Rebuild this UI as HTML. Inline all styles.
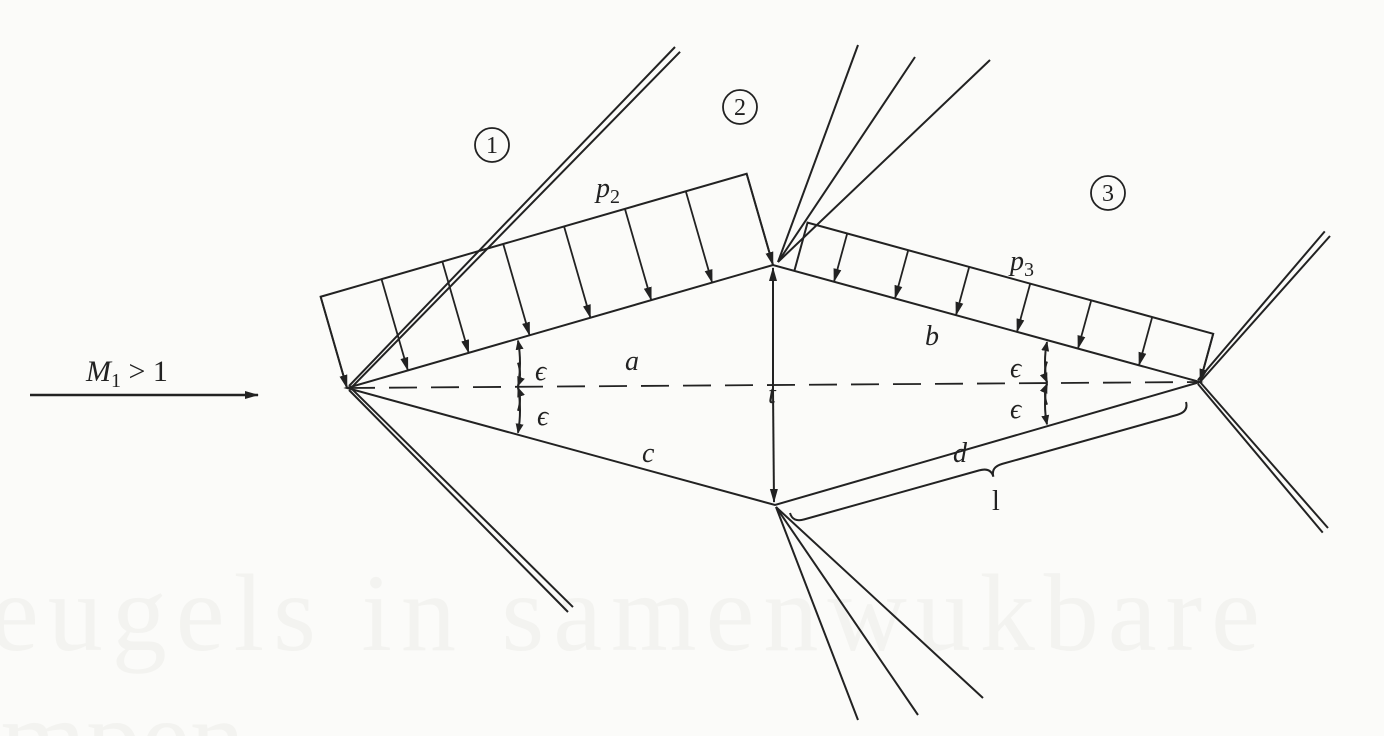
<!DOCTYPE html>
<html><head><meta charset="utf-8"><style>
html,body{margin:0;padding:0;background:#fbfbf9;overflow:hidden;width:1384px;height:736px;}
svg{display:block;font-family:"Liberation Serif",serif;}
</style></head><body>
<svg id="fig" width="1384" height="736" viewBox="0 0 1384 736" xmlns="http://www.w3.org/2000/svg">
<defs>
<marker id="ah" markerWidth="10" markerHeight="10" refX="9" refY="5" orient="auto" markerUnits="userSpaceOnUse" viewBox="0 0 10 10">
<path d="M0,1 L10,5 L0,9 Z" fill="#222"/></marker>
<marker id="ahs" markerWidth="14" markerHeight="14" refX="13" refY="7" orient="auto" markerUnits="userSpaceOnUse" viewBox="0 0 14 14">
<path d="M0,3 L14,7 L0,11 Z" fill="#222"/></marker>
</defs>
<g fill="#f3f3f0" font-size="110" font-family="Liberation Serif, serif">
<text x="-10" y="650" textLength="1270">eugels in samenwukbare</text>
<text x="-30" y="775">impen</text>
</g>
<g id="main" stroke="#222" stroke-width="2" fill="none"></g>
<g fill="#222" font-style="italic" font-size="28">
<text x="596" y="197">p<tspan font-size="20" dy="6" font-style="normal">2</tspan></text>
<text x="1010" y="270">p<tspan font-size="20" dy="6" font-style="normal">3</tspan></text>
<text x="625" y="370">a</text>
<text x="925" y="345">b</text>
<text x="642" y="462">c</text>
<text x="953" y="462">d</text>
<text x="768" y="403">t</text>
<text x="535" y="380">ϵ</text>
<text x="537" y="425">ϵ</text>
<text x="1010" y="377">ϵ</text>
<text x="1010" y="418">ϵ</text>
<text x="992" y="510" font-style="normal">l</text>
<text x="86" y="381" font-size="30">M<tspan font-size="20" dy="6" font-style="normal">1</tspan><tspan dy="-6" font-style="normal"> &gt; 1</tspan></text>
</g>
<g fill="none" stroke="#222" stroke-width="1.8">
<circle cx="492" cy="145" r="17"/>
<circle cx="740" cy="107" r="17"/>
<circle cx="1108" cy="193" r="17"/>
</g>
<g fill="#222" font-size="24" text-anchor="middle">
<text x="492" y="153">1</text><text x="740" y="115">2</text><text x="1108" y="201">3</text>
</g>
</svg>
<script>
const NS='http://www.w3.org/2000/svg';
const g=document.getElementById('main');
function ln(x1,y1,x2,y2,name,extra){
  const e=document.createElementNS(NS,'line');
  e.setAttribute('x1',x1);e.setAttribute('y1',y1);e.setAttribute('x2',x2);e.setAttribute('y2',y2);
  
  
  if(extra)for(const k in extra)e.setAttribute(k,extra[k]);
  g.appendChild(e);return e;
}
function pth(d,name,extra){
  const e=document.createElementNS(NS,'path');e.setAttribute('d',d);
  
  
  if(extra)for(const k in extra)e.setAttribute(k,extra[k]);
  g.appendChild(e);return e;
}
const LE=[347,388],TOP=[773,265],TE=[1200,382],BOT=[775,505];
pth(`M${LE} L${TOP} L${TE} L${BOT} Z`,'airfoil');
ln(LE[0],LE[1],TE[0],TE[1],'chord-line',{'stroke-dasharray':'28,14','stroke-width':'1.8'});
ln(773,390,773,268,'thickness-arrow-up',{'marker-end':'url(#ahs)'});
ln(773,390,774,502,'thickness-arrow-down',{'marker-end':'url(#ahs)'});
ln(30,395,258,395,'freestream-arrow',{'marker-end':'url(#ahs)','stroke-width':'2.5'});
function dbl(a,b,off,name){
  const dx=b[0]-a[0],dy=b[1]-a[1],L=Math.hypot(dx,dy),nx=-dy/L*off,ny=dx/L*off;
  ln(a[0],a[1],b[0],b[1],name+'-1');
  ln(a[0]+nx*0.4,a[1]+ny*0.4,b[0]+nx,b[1]+ny,name+'-2');
}
dbl([349,386],[675,47],7,'leading-shock-upper');
dbl([349,390],[568,612],-7,'leading-shock-lower');
dbl([1200,382],[1330,236],-7,'trailing-shock-upper');
dbl([1200,382],[1328,528],7,'trailing-shock-lower');
[[858,45],[915,57],[990,60]].forEach((p,i)=>ln(778,262,p[0],p[1],'expansion-fan-upper-'+i));
[[858,720],[918,715],[983,698]].forEach((p,i)=>ln(776,507,p[0],p[1],'expansion-fan-lower-'+i));
function pressure(A,B,h,t0,t1,arrows,sign,name){
  const dx=B[0]-A[0],dy=B[1]-A[1],L=Math.hypot(dx,dy);
  const nx=sign*dy/L,ny=-sign*dx/L;
  const P=t=>[A[0]+dx*t,A[1]+dy*t];
  const p0=P(t0),p1=P(t1);
  pth(`M${p0} L${p0[0]+nx*h},${p0[1]+ny*h} L${p1[0]+nx*h},${p1[1]+ny*h} L${p1}`,name+'-box');
  arrows.forEach((t,i)=>{const p=P(t);ln(p[0]+nx*h,p[1]+ny*h,p[0],p[1],name+'-arrow-'+i,{'marker-end':'url(#ahs)','stroke-width':'1.8'});});
}
pressure(LE,TOP,95,0,1,[0,1/7,2/7,3/7,4/7,5/7,6/7,1],1,'p2');
pressure(TOP,TE,50,0.05,1.0,[1/7,2/7,3/7,4/7,5/7,6/7,1],1,'p3');
function eps(x,name){
  const yc=LE[1]+(TE[1]-LE[1])*(x-LE[0])/(TE[0]-LE[0]);
  let yt,yb;
  if(x<773){yt=LE[1]+(TOP[1]-LE[1])*(x-LE[0])/(TOP[0]-LE[0]);yb=LE[1]+(BOT[1]-LE[1])*(x-LE[0])/(BOT[0]-LE[0]);}
  else{yt=TOP[1]+(TE[1]-TOP[1])*(x-TOP[0])/(TE[0]-TOP[0]);yb=BOT[1]+(TE[1]-BOT[1])*(x-BOT[0])/(TE[0]-BOT[0]);}
  const s=x<773?1:-1;
  pth(`M${x},${yc} Q${x+s*4},${(yc+yt)/2} ${x},${yt+2}`,name+'-upper',{'marker-end':'url(#ah)'});
  pth(`M${x},${(yc+yt)/2} Q${x+s*4},${(yc*3+yt)/4} ${x},${yc-1}`,name+'-upper-b',{'marker-end':'url(#ah)'});
  pth(`M${x},${yc} Q${x+s*4},${(yc+yb)/2} ${x},${yb-2}`,name+'-lower',{'marker-end':'url(#ah)'});
  pth(`M${x},${(yc+yb)/2} Q${x+s*4},${(yc*3+yb)/4} ${x},${yc+1}`,name+'-lower-b',{'marker-end':'url(#ah)'});
}
eps(518,'epsilon-front');eps(1047,'epsilon-rear');
(function(){
  const A=[790,513],B=[1186,402];
  const dx=B[0]-A[0],dy=B[1]-A[1],L=Math.hypot(dx,dy),ux=dx/L,uy=dy/L,nx=-uy,ny=ux;
  const nn=ny<0?-1:1; const Nx=nx*nn,Ny=ny*nn;
  const M=[(A[0]+B[0])/2,(A[1]+B[1])/2];
  const q=(p,a,b)=>[p[0]+ux*a+Nx*b,p[1]+uy*a+Ny*b];
  const d=`M${A} Q${q(A,0,10)} ${q(A,12,10)} L${q(M,-12,10)} Q${q(M,0,10)} ${q(M,0,20)} Q${q(M,0,10)} ${q(M,12,10)} L${q(B,-12,10)} Q${q(B,0,10)} ${B}`;
  pth(d,'length-brace');
})();
</script>
</body></html>
